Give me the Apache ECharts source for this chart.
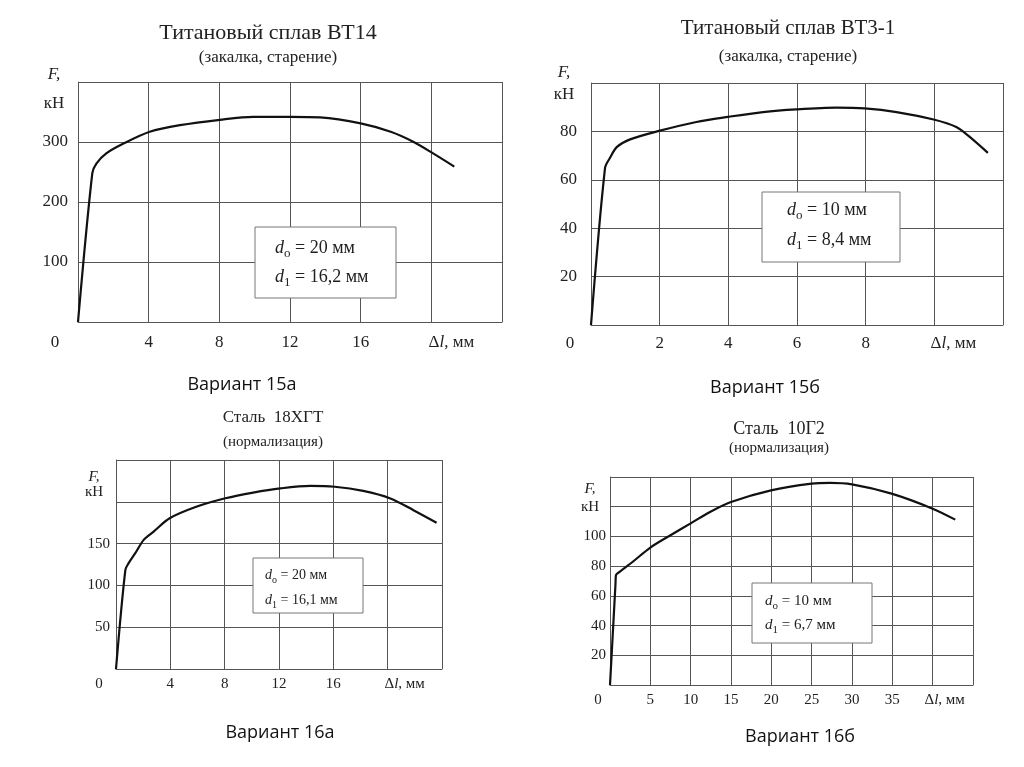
<!DOCTYPE html>
<html><head><meta charset="utf-8">
<script src="https://cdn.jsdelivr.net/npm/echarts@6/dist/echarts.min.js"></script>
<style>html,body{margin:0;padding:0;background:#fff}#c{width:1024px;height:767px}</style>
</head><body><div id="c"></div>
<script>
// ---- Data (Δl, мм ; F, кН) ----
var curve15a = [[0,0],[0.81,248],[1.04,264],[1.6,281],[2.55,297],[4.06,317],[5.77,328],[8.03,337],[9.92,342],[12,342],[13.7,341],[16,331],[17.7,317],[19,300],[20.1,281],[21.3,259]];
var curve15b = [[0,0],[0.41,65],[0.55,69],[0.75,73.5],[1.14,76.7],[1.98,80.2],[3.07,83.9],[3.99,86],[5.01,88],[5.98,89.1],[7.15,89.8],[7.97,89.5],[8.9,88],[9.98,84.9],[10.64,81.8],[11.03,77.7],[11.56,71.1]];
var curve16a = [[0,0],[0.69,118.6],[0.93,126.6],[1.42,138.5],[2.04,154.5],[2.77,164.4],[3.95,180.3],[5.96,194.3],[8.05,204.2],[10.1,211],[12.1,216],[14.3,219],[16.1,218],[18.2,213],[20.2,204],[21.9,190],[23.6,175]];
var curve16b = [[0,0],[0.68,68],[0.74,74],[1.3,76.6],[2.9,83.3],[5,92.5],[7.5,100.8],[10,108.8],[12.4,116.5],[15,123.2],[19.96,131],[25,135.5],[27.3,136],[30,135],[34.9,128.8],[40,118.7],[42.8,111.3]];

var titles = ['Титановый сплав ВТ14','Титановый сплав ВТ3-1','Сталь  18ХГТ','Сталь  10Г2'];
var subtitles = ['(закалка, старение)','(закалка, старение)','(нормализация)','(нормализация)'];
var variants = ['Вариант 15а','Вариант 15б','Вариант 16а','Вариант 16б'];
var d0 = ['20 мм','10 мм','20 мм','10 мм'];
var d1 = ['16,2 мм','8,4 мм','16,1 мм','6,7 мм'];
var xMax = [24,12,24,45], xStep = [4,2,4,5], xNameAt = [20,10,20,40];
var yMax = [400,100,250,140], yStep = [100,20,50,20];
var yHidden = [[0,400],[0,100],[0,200,250],[0,120,140]];

var SERIF = '"Liberation Serif","DejaVu Serif",serif';
var grids = [
  {left:78, top:82, width:424, height:240},
  {left:591, top:83, width:412, height:242},
  {left:116, top:460, width:326, height:209},
  {left:610, top:477, width:363, height:208}
];
var tickFont = [17,17,15,15];
var xMargin = [12,10,8,8];
var yMargin = [10,14,6,4];
var zeroShift = [23,21,17,12];
var nameShift = [20,19,17,12];

var xAxes = [], yAxes = [], series = [];
var curves = [curve15a, curve15b, curve16a, curve16b];
for (var i=0;i<4;i++){
  (function(i){
    var fs = tickFont[i];
    xAxes.push({
      type:'value', gridIndex:i, min:0, max:xMax[i], interval:xStep[i],
      axisLine:{show:true, lineStyle:{color:'#555', width:1}},
      axisTick:{show:false},
      splitLine:{show:true, lineStyle:{color:'#555', width:1}},
      axisLabel:{
        margin:xMargin[i], color:'#222', fontFamily:SERIF, fontSize:fs,
        showMaxLabel:true, showMinLabel:true,
        formatter:function(v){
          if (v===0) return '{z|0}';
          if (v===xNameAt[i]) return '{n|Δ}{it|l}{t|, мм}';
          if (v>xNameAt[i]) return '';
          return String(v);
        },
        rich:{
          z:{fontFamily:SERIF, fontSize:fs, color:'#222', padding:[0,2*zeroShift[i],0,0]},
          n:{fontFamily:SERIF, fontSize:fs, color:'#222', padding:[0,0,0,2*nameShift[i]]},
          it:{fontFamily:SERIF, fontSize:fs, fontStyle:'italic', color:'#222'},
          t:{fontFamily:SERIF, fontSize:fs, color:'#222'}
        }
      }
    });
    yAxes.push({
      type:'value', gridIndex:i, min:0, max:yMax[i], interval:yStep[i],
      axisLine:{show:true, lineStyle:{color:'#555', width:1}},
      axisTick:{show:false},
      splitLine:{show:true, lineStyle:{color:'#555', width:1}},
      axisLabel:{
        margin:yMargin[i], color:'#222', fontFamily:SERIF, fontSize:fs,
        formatter:function(v){ return yHidden[i].indexOf(v)>=0 ? '' : String(v); }
      }
    });
    series.push({
      type:'line', xAxisIndex:i, yAxisIndex:i, data:curves[i],
      showSymbol:false, smooth:0.3,
      lineStyle:{color:'#111', width:2.2}, silent:true
    });
  })(i);
}

var titlePos = [[268,33,22,58,17],[788,28,21,57,17],[273,418,17,442,15],[779,429,18,448,15]];
var variantPos = [[242,385],[765,388],[280,733],[800,737]];
var fPos = [[54,75,104,17],[564,73,95,17],[94,477,492,15],[590,489,507,15]];
var boxes = [
  {x:255,y:227,w:141,h:71, tx:275, y0:248, y1:277, fs:18},
  {x:762,y:192,w:138,h:70, tx:787, y0:210, y1:240, fs:18},
  {x:253,y:558,w:110,h:55, tx:265, y0:575, y1:600, fs:14},
  {x:752,y:583,w:120,h:60, tx:765, y0:601, y1:625, fs:15}
];

var graphic = [];
for (var k=0;k<4;k++){
  var tp = titlePos[k];
  graphic.push({type:'text', x:tp[0], y:tp[1], style:{text:titles[k], font:tp[2]+'px '+SERIF, fill:'#222', textAlign:'center', textVerticalAlign:'middle'}});
  graphic.push({type:'text', x:tp[0], y:tp[3], style:{text:subtitles[k], font:tp[4]+'px '+SERIF, fill:'#222', textAlign:'center', textVerticalAlign:'middle'}});
  var vp = variantPos[k];
  graphic.push({type:'text', x:vp[0], y:vp[1], style:{text:variants[k], font:'18px "Open Sans","Noto Sans",sans-serif', fill:'#111', textAlign:'center', textVerticalAlign:'middle'}});
  var fp = fPos[k];
  graphic.push({type:'text', x:fp[0], y:fp[1], style:{text:'F,', font:'italic '+fp[3]+'px '+SERIF, fill:'#222', textAlign:'center', textVerticalAlign:'middle'}});
  graphic.push({type:'text', x:fp[0], y:fp[2], style:{text:'кН', font:fp[3]+'px '+SERIF, fill:'#222', textAlign:'center', textVerticalAlign:'middle'}});
  var b = boxes[k];
  graphic.push({type:'rect', shape:{x:b.x, y:b.y, width:b.w, height:b.h}, style:{fill:'#fff', stroke:'#777', lineWidth:1}, z:100});
  var rich = {
    i:{font:'italic '+b.fs+'px '+SERIF, fill:'#222', lineHeight:b.fs+6},
    s:{font:Math.round(b.fs*0.72)+'px '+SERIF, fill:'#222', lineHeight:Math.round(b.fs*0.75), verticalAlign:'bottom'},
    t:{font:b.fs+'px '+SERIF, fill:'#222', lineHeight:b.fs+6}
  };
  graphic.push({type:'text', x:b.tx, y:b.y0, z:101, style:{text:'{i|d}{s|о}{t| = '+d0[k]+'}', rich:rich, textAlign:'left', textVerticalAlign:'middle'}});
  graphic.push({type:'text', x:b.tx, y:b.y1, z:101, style:{text:'{i|d}{s|1}{t| = '+d1[k]+'}', rich:rich, textAlign:'left', textVerticalAlign:'middle'}});
}

var chart = echarts.init(document.getElementById('c'));
chart.setOption({
  animation:false,
  backgroundColor:'#fff',
  grid:grids,
  xAxis:xAxes,
  yAxis:yAxes,
  series:series,
  graphic:graphic
});
</script></body></html>
